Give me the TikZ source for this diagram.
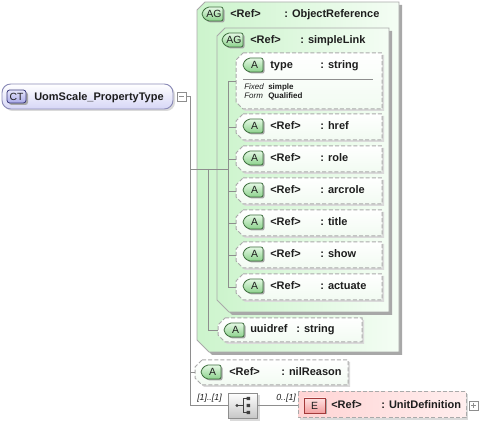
\documentclass[tikz,border=0pt]{standalone}
\usepackage{fontspec}
\setmainfont{Liberation Sans}
\usetikzlibrary{calc}
\definecolor{lineg}{HTML}{8E8E8E}
\definecolor{boxborder}{HTML}{AAAAAA}
\definecolor{agL}{HTML}{CCF4CC}
\definecolor{agR}{HTML}{F4FDF4}
\definecolor{shad}{HTML}{A8A8A8}
\definecolor{lshad}{HTML}{DADADA}
\definecolor{attrB}{HTML}{F2FBF2}
\definecolor{badgeT}{HTML}{E4F8E4}
\definecolor{badgeB}{HTML}{8CD28C}
\definecolor{badgeD}{HTML}{3F6F3F}
\definecolor{ctB}{HTML}{D6D6F6}
\definecolor{ctD}{HTML}{8C8CB8}
\definecolor{ctbT}{HTML}{E8E8FC}
\definecolor{ctbB}{HTML}{A8A8E8}
\definecolor{ctbD}{HTML}{3A3A7A}
\definecolor{elL}{HTML}{FFD4D4}
\definecolor{elR}{HTML}{FFEEEE}
\definecolor{ebT}{HTML}{FFE2E2}
\definecolor{ebB}{HTML}{F2A0A0}
\definecolor{ebD}{HTML}{A33A3A}
\definecolor{txt}{HTML}{1E1E1E}
\newcommand\attrbox[4]{%
  \fill[lshad] ({#1+9},{#2+2}) -- ({#3+2},{#2+2}) -- ({#3+2},{#4+2}) -- ({#1+9},{#4+2}) -- ({#1+2},{#4-5}) -- ({#1+2},{#2+9}) -- cycle;
  \path[attrfill] ({#1+7},{#2}) -- ({#3},{#2}) -- ({#3},{#4}) -- ({#1+7},{#4}) -- ({#1},{#4-7}) -- ({#1},{#2+7}) -- cycle;}
\newcommand\greenbadge[5]{%
  \fill[shad, rounded corners=1.5pt] ({#1+#3+1.5},{#2-5.5}) -- ({#1+6.5},{#2-5.5}) -- ({#1+1.5},{#2-0.5}) -- ({#1+1.5},{#2+3.5}) -- ({#1+6.5},{#2+8.5}) -- ({#1+#3+1.5},{#2+8.5}) -- cycle;
  \path[badgeG, rounded corners=1.5pt] ({#1+#3},{#2-7}) -- ({#1+5},{#2-7}) -- ({#1},{#2-2}) -- ({#1},{#2+2}) -- ({#1+5},{#2+7}) -- ({#1+#3},{#2+7}) -- cycle;
  \node[btext] (#5) at ({#1+#3/2+1.5},{#2}) {#4};}
\begin{document}
\begin{tikzpicture}[x=0.75pt,y=-0.75pt,
  conn/.style={draw=lineg, line width=0.7pt},
  lbl/.style={inner sep=0pt, anchor=west, text=txt, font=\fontsize{8.25}{9}\selectfont\bfseries, text height=5.9pt, text depth=0pt},
  btext/.style={inner sep=0pt, text=txt, font=\fontsize{7.8}{9}\selectfont, text height=5.6pt, text depth=0pt},
  fixit/.style={inner sep=0pt, anchor=west, text=txt, font=\fontsize{6}{7}\selectfont\itshape, text height=4.3pt, text depth=0pt},
  fixval/.style={inner sep=0pt, anchor=west, text=txt, font=\fontsize{6}{7}\selectfont\bfseries, text height=4.3pt, text depth=0pt},
  card/.style={inner sep=0pt, anchor=west, text=txt, font=\fontsize{6.6}{7}\selectfont\itshape, text height=4.8pt, text depth=0pt},
  agfill/.style={left color=agL, right color=agR, draw=boxborder, line width=0.7pt},
  attrfill/.style={top color=white, bottom color=attrB, draw=boxborder, line width=0.75pt, dash pattern=on 3pt off 1.6pt},
  badgeG/.style={top color=badgeT, bottom color=badgeB, draw=badgeD, line width=0.6pt},
  togglebox/.style={draw=lineg, fill=white, line width=0.5pt, minimum size=6.75pt, inner sep=0pt}
]
\useasboundingbox (0,0) rectangle (479,423);

% ---------- complex type ----------
\fill[lshad, rounded corners=6.5pt] (4,86) rectangle (175,111);
\path[top color=white, bottom color=ctB, draw=ctD, line width=0.7pt, rounded corners=6.5pt] (2,84) rectangle (173,109);
\fill[shad, rounded corners=2pt] (9,92) rectangle (28,105);
\path[top color=ctbT, bottom color=ctbB, draw=ctbD, line width=0.6pt, rounded corners=2pt] (7,90) rectangle (26,103);
\node[btext] (ctbadge) at (16.5,96.5) {CT};
\node[lbl] (ctname) at (34,96.5) {UomScale\_PropertyType};
\node[togglebox] (minus) at (181.5,96.5) {};
\draw[lineg, line width=0.6pt] (179,96.5) -- (184,96.5);

% ---------- outer attribute group ----------
\fill[shad] (208,5) -- (402,5) -- (402,355) -- (212,355) -- (200,343) -- (200,13) -- cycle;
\path[agfill] (205,2) -- (399,2) -- (399,352) -- (209,352) -- (197,340) -- (197,10) -- cycle;
\greenbadge{202}{14}{21}{AG}{agOb}
\node[lbl] (agOref) at (230,14) {<Ref>};
\node[lbl] (agOtype) at (284,14) {: ObjectReference};

% ---------- inner attribute group ----------
\fill[shad] (228,31) -- (392,31) -- (392,315) -- (232,315) -- (220,303) -- (220,39) -- cycle;
\path[agfill] (225,28) -- (389,28) -- (389,312) -- (229,312) -- (217,300) -- (217,36) -- cycle;
\greenbadge{222}{40}{21}{AG}{agIb}
\node[lbl] (agIref) at (250,40) {<Ref>};
\node[lbl] (agItype) at (300,40) {: simpleLink};

% ---------- junction coordinates ----------
\coordinate (trunkTop) at (190,96.5);
\coordinate (trunkBot) at (190,405.5);
\coordinate (agIn) at (190,169);
\coordinate (vO) at (208,169);
\coordinate (vOb) at (208,330);
\coordinate (vI) at (228,81);
\coordinate (vIb) at (228,287);
\coordinate (typeL) at (236,81);
\coordinate (uuidL) at (218,330);
\coordinate (nilL) at (195,372);
\coordinate (elL) at (298,405.5);

% ---------- attribute type ----------
\attrbox{236}{53}{382}{109}
\greenbadge{243}{65}{20}{A}{typeb}
\node[lbl] (typen) at (270,65) {type};
\node[lbl] (typet) at (320,65) {: string};
\draw[lineg, line width=0.6pt] (243,79) -- (373,79);
\node[fixit] (fixk) at (244,87) {Fixed};
\node[fixval] (fixv) at (268,86.5) {simple};
\node[fixit] (formk) at (244,96) {Form};
\node[fixval] (formv) at (268,95.5) {Qualified};

% ---------- attributes with refs ----------
\foreach \nm/\yc in {href/127, role/159, arcrole/191, title/223, show/255, actuate/287} {
  \attrbox{236}{\yc-13}{382}{\yc+13}
  \greenbadge{243}{\yc-1}{20}{A}{\nm-b}
  \node[lbl] (\nm-r) at (270,\yc-1.5) {<Ref>};
  \node[lbl] (\nm-t) at (320,\yc-1.5) {: \nm};
  \coordinate (\nm-L) at (236,\yc);
}

% ---------- uuidref ----------
\attrbox{218}{318}{362}{342}
\greenbadge{224}{330}{20}{A}{uuidb}
\node[lbl] (uuidn) at (250,329) {uuidref};
\node[lbl] (uuidt) at (296,329) {: string};

% ---------- nilReason ----------
\attrbox{195}{360}{348}{385}
\greenbadge{201}{372}{20}{A}{nilb}
\node[lbl] (nilr) at (229,371.5) {<Ref>};
\node[lbl] (nilt) at (281,371.5) {: nilReason};

% ---------- sequence ----------
\fill[lshad] (230,395) rectangle (260,421);
\node[draw=lineg, top color=white, bottom color=black!22, line width=0.6pt, minimum width=21.75pt, minimum height=18.75pt, inner sep=0pt] (seq) at (242.5,405.5) {};
\fill[black!75] (237,405.5) circle (1.7);
\draw[black!75, line width=0.6pt] (237,405.5) -- (243,405.5) (243,398.5) -- (243,412.5) (243,398.5) -- (247,398.5) (243,412.5) -- (247,412.5);
\fill[black!75] (246.5,396.8) rectangle (250,400.2) (246.5,403.8) rectangle (250,407.2) (246.5,410.8) rectangle (250,414.2);
\node[card] (cardL) at (197,397.5) {[1]..[1]};
\node[card] (cardR) at (276,397.5) {0..[1]};

% ---------- element ----------
\fill[lshad] (300,394) rectangle (468,420);
\path[left color=elL, right color=elR, draw=boxborder, line width=0.75pt, dash pattern=on 3pt off 1.6pt] (298,392) rectangle (466,418);
\fill[shad] (305.5,399.5) rectangle (326.5,414.5);
\path[top color=ebT, bottom color=ebB, draw=ebD, line width=0.6pt] (304,398) rectangle (325,413);
\node[btext] (elb) at (314.5,405.5) {E};
\node[lbl] (elr) at (331,405) {<Ref>};
\node[lbl] (elt) at (381,405) {: UnitDefinition};
\node[togglebox] (plus) at (473.5,405.5) {};
\draw[lineg, line width=0.6pt] (471,405.5) -- (476,405.5) (473.5,403) -- (473.5,408);

% ---------- connectors ----------
\draw[conn] (minus.east) -- (trunkTop) -- (trunkBot) -- (seq.west);
\draw[conn] (agIn) -- (agIn -| vI);
\draw[conn] (vO) -- (vOb) -- (uuidL);
\draw[conn] (vI) -- (vIb);
\draw[conn] (vI) -- (typeL);
\foreach \nm in {href, role, arcrole, title, show, actuate} {
  \draw[conn] (vI |- \nm-L) -- (\nm-L);
}
\draw[conn] (trunkTop |- nilL) -- (nilL);
\draw[conn] (seq.east) -- (elL);
\end{tikzpicture}
\end{document}
